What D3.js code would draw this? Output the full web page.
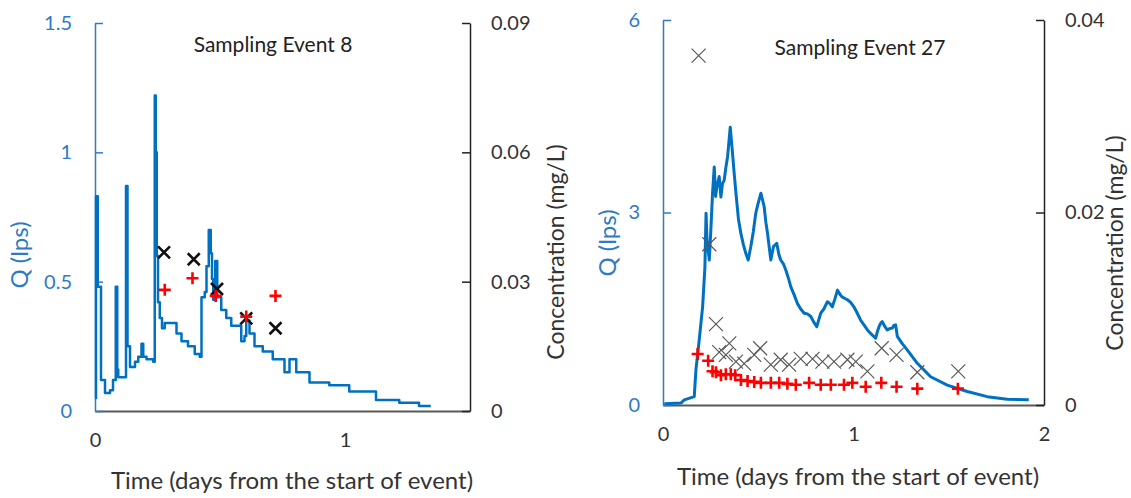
<!DOCTYPE html>
<html>
<head>
<meta charset="utf-8">
<script src="https://cdn.jsdelivr.net/npm/d3@7"></script>
<style>
  body { margin: 0; background: #fff; }
  text { font-family: Lato, "Open Sans", sans-serif; }
</style>
</head>
<body>
<svg width="1131" height="498"></svg>
<script>
// ---- Sampling Event 8 ----
var t8 = [0, 0.004, 0.011, 0.024, 0.040, 0.060, 0.072, 0.083, 0.089, 0.093, 0.120, 0.124, 0.130, 0.140, 0.160, 0.173, 0.186, 0.193, 0.206, 0.233, 0.239, 0.243, 0.247, 0.252, 0.259, 0.268, 0.279, 0.306, 0.326, 0.346, 0.372, 0.399, 0.419, 0.426, 0.439, 0.446, 0.455, 0.463, 0.468, 0.473, 0.481, 0.489, 0.505, 0.525, 0.545, 0.585, 0.598, 0.605, 0.618, 0.638, 0.671, 0.711, 0.758, 0.778, 0.805, 0.858, 0.937, 1.017, 1.124, 1.217, 1.296, 1.343];
var q8 = [0.05, 0.83, 0.48, 0.12, 0.07, 0.08, 0.12, 0.48, 0.16, 0.13, 0.13, 0.87, 0.25, 0.17, 0.19, 0.21, 0.26, 0.21, 0.20, 0.19, 1.22, 1.0, 0.6, 0.42, 0.36, 0.32, 0.34, 0.34, 0.30, 0.27, 0.25, 0.22, 0.21, 0.44, 0.46, 0.56, 0.70, 0.61, 0.51, 0.43, 0.58, 0.44, 0.39, 0.36, 0.33, 0.27, 0.29, 0.35, 0.30, 0.25, 0.23, 0.20, 0.15, 0.20, 0.15, 0.11, 0.10, 0.075, 0.043, 0.032, 0.019, 0.019];
var cross8t = [0.276, 0.395, 0.488, 0.605, 0.722];
var cross8c = [0.0368, 0.0352, 0.0283, 0.0215, 0.0192];
var plus8t = [0.279, 0.390, 0.483, 0.605, 0.722];
var plus8c = [0.0281, 0.0308, 0.0267, 0.0219, 0.0267];

// ---- Sampling Event 27 ----
var t27 = [0.007, 0.094, 0.112, 0.164, 0.173, 0.19, 0.208, 0.22, 0.226, 0.231, 0.243, 0.252, 0.26, 0.269, 0.276, 0.283, 0.295, 0.304, 0.312, 0.321, 0.33, 0.339, 0.353, 0.365, 0.374, 0.383, 0.396, 0.409, 0.422, 0.435, 0.447, 0.461, 0.474, 0.487, 0.5, 0.514, 0.531, 0.54, 0.549, 0.558, 0.566, 0.580, 0.597, 0.608, 0.618, 0.632, 0.645, 0.658, 0.671, 0.688, 0.706, 0.722, 0.741, 0.758, 0.776, 0.79, 0.807, 0.818, 0.828, 0.845, 0.863, 0.876, 0.889, 0.902, 0.916, 0.93, 0.942, 0.955, 0.968, 0.985, 1.002, 1.02, 1.038, 1.055, 1.073, 1.095, 1.116, 1.125, 1.134, 1.142, 1.151, 1.165, 1.177, 1.19, 1.204, 1.212, 1.221, 1.230, 1.255, 1.282, 1.335, 1.405, 1.492, 1.597, 1.702, 1.807, 1.920];
var q27 = [0.02, 0.03, 0.08, 0.13, 0.55, 1.01, 1.53, 2.15, 2.99, 2.57, 2.26, 2.78, 3.3, 3.71, 3.25, 3.40, 3.56, 3.24, 3.45, 3.50, 3.7, 3.87, 4.33, 3.92, 3.6, 3.30, 2.9, 2.67, 2.5, 2.36, 2.26, 2.47, 2.7, 2.99, 3.15, 3.30, 3.09, 2.85, 2.67, 2.45, 2.26, 2.47, 2.52, 2.35, 2.26, 2.2, 2.10, 1.98, 1.84, 1.72, 1.58, 1.5, 1.43, 1.42, 1.38, 1.3, 1.22, 1.33, 1.43, 1.5, 1.61, 1.58, 1.53, 1.65, 1.79, 1.72, 1.68, 1.66, 1.64, 1.6, 1.53, 1.43, 1.32, 1.25, 1.17, 1.1, 1.04, 1.14, 1.22, 1.27, 1.30, 1.22, 1.17, 1.19, 1.20, 1.24, 1.25, 1.07, 0.96, 0.86, 0.65, 0.44, 0.31, 0.21, 0.13, 0.09, 0.08];
var cross27t = [0.187, 0.243, 0.278, 0.295, 0.330, 0.348, 0.383, 0.426, 0.479, 0.510, 0.566, 0.618, 0.662, 0.723, 0.785, 0.837, 0.898, 0.968, 1.012, 1.073, 1.148, 1.226, 1.335, 1.55];
var cross27c = [0.0363, 0.0167, 0.0084, 0.0055, 0.0052, 0.0064, 0.0045, 0.0043, 0.0052, 0.0059, 0.0042, 0.0047, 0.0042, 0.0048, 0.0048, 0.0045, 0.0045, 0.0047, 0.0045, 0.0035, 0.0059, 0.0052, 0.0034, 0.0035];
var plus27t = [0.182, 0.237, 0.260, 0.278, 0.304, 0.330, 0.356, 0.379, 0.409, 0.444, 0.479, 0.514, 0.566, 0.610, 0.653, 0.697, 0.767, 0.828, 0.881, 0.950, 0.994, 1.064, 1.146, 1.226, 1.335, 1.548];
var plus27c = [0.0053, 0.0046, 0.0035, 0.0034, 0.0031, 0.0032, 0.0032, 0.0031, 0.0026, 0.0025, 0.0024, 0.0023, 0.0023, 0.0023, 0.0022, 0.0021, 0.0023, 0.0021, 0.0021, 0.0021, 0.0023, 0.0019, 0.0023, 0.0019, 0.0017, 0.0017];

var svg = d3.select("svg");
var blue = "#0070C0", axisBlue = "#2E7BC4";

function zip(a, b){ return a.map((v, i) => [v, b[i]]); }

function drawPanel(p){
    var x = d3.scaleLinear().domain(p.xDomain).range([p.left, p.right]);
    var y = d3.scaleLinear().domain(p.qDomain).range([p.bottom, p.top]);
    var yc = d3.scaleLinear().domain(p.cDomain).range([p.bottom, p.top]);
    var g = svg.append("g");

    // x axis
    var xa = g.append("g").attr("transform", "translate(0," + p.bottom + ")")
        .call(d3.axisBottom(x).tickValues(p.xTicks).tickSize(0).tickSizeOuter(0).tickPadding(22).tickFormat(d3.format("d")));
    xa.select(".domain").attr("stroke", "#595959").attr("stroke-width", 2);
    xa.selectAll("text").attr("font-size", 20).attr("fill", "#333").attr("font-family", "Lato");

    // left Q axis
    var ya = g.append("g").attr("transform", "translate(" + p.left + ",0)")
        .call(d3.axisLeft(y).tickValues(p.qTicks).tickSize(-8).tickSizeOuter(0).tickPadding(23).tickFormat(d => d));
    ya.select(".domain").attr("stroke", axisBlue).attr("stroke-width", 1.5);
    ya.selectAll("line").attr("stroke", axisBlue).attr("stroke-width", 1.5);
    ya.selectAll("text").attr("font-size", 20).attr("fill", axisBlue).attr("font-family", "Lato");

    // right concentration axis
    var ca = g.append("g").attr("transform", "translate(" + p.right + ",0)")
        .call(d3.axisRight(yc).tickValues(p.cTicks).tickSize(-8).tickSizeOuter(0).tickPadding(21).tickFormat(d => d));
    ca.select(".domain").attr("stroke", "#222").attr("stroke-width", 1.5);
    ca.selectAll("line").attr("stroke", "#222").attr("stroke-width", 1.5);
    ca.selectAll("text").attr("font-size", 20).attr("fill", "#333").attr("font-family", "Lato");

    // hydrograph
    g.append("path")
        .datum(zip(p.t, p.q))
        .attr("fill", "none")
        .attr("stroke", blue)
        .attr("stroke-width", p.lineW)
        .attr("stroke-linejoin", "round")
        .attr("d", d3.line().x(d => x(d[0])).y(d => y(d[1])).curve(p.curve));

    // x markers
    var s = p.crossSize;
    g.append("g").selectAll("path")
        .data(zip(p.crossT, p.crossC))
        .enter().append("path")
        .attr("transform", d => "translate(" + x(d[0]) + "," + yc(d[1]) + ")")
        .attr("d", "M" + -s + "," + -s + "L" + s + "," + s + "M" + -s + "," + s + "L" + s + "," + -s)
        .attr("stroke", p.crossColor)
        .attr("stroke-width", p.crossW)
        .attr("fill", "none");

    // + markers
    var r = p.plusSize;
    g.append("g").selectAll("path")
        .data(zip(p.plusT, p.plusC))
        .enter().append("path")
        .attr("transform", d => "translate(" + x(d[0]) + "," + yc(d[1]) + ")")
        .attr("d", "M" + -r + ",0H" + r + "M0," + -r + "V" + r)
        .attr("stroke", "#FF0000")
        .attr("stroke-width", 2.6)
        .attr("fill", "none");

    // titles
    g.append("text").attr("x", p.titleX).attr("y", p.titleY)
        .attr("text-anchor", "middle").attr("font-size", 21).attr("fill", "#222")
        .text(p.title);
    g.append("text").attr("x", p.xTitleX).attr("y", p.xTitleY)
        .attr("text-anchor", "middle").attr("font-size", 24).attr("fill", "#333")
        .text("Time (days from the start of event)");
    g.append("text")
        .attr("transform", "translate(" + p.qTitleX + "," + p.qTitleY + ") rotate(-90)")
        .attr("text-anchor", "middle").attr("dy", "0.35em").attr("font-size", 24).attr("fill", axisBlue)
        .text("Q (lps)");
    g.append("text")
        .attr("transform", "translate(" + p.cTitleX + "," + p.cTitleY + ") rotate(-90)")
        .attr("text-anchor", "middle").attr("dy", "0.35em").attr("font-size", 23).attr("fill", "#333")
        .text("Concentration (mg/L)");
}

drawPanel({
    left: 95, right: 470, top: 23, bottom: 411,
    xDomain: [0, 1.5], qDomain: [0, 1.5], cDomain: [0, 0.09],
    xTicks: [0, 1], qTicks: [0, 0.5, 1, 1.5], cTicks: [0, 0.03, 0.06, 0.09],
    t: t8, q: q8, curve: d3.curveStepAfter, lineW: 2.5,
    crossT: cross8t, crossC: cross8c, crossColor: "#111", crossW: 2.6, crossSize: 6,
    plusT: plus8t, plusC: plus8c, plusSize: 6,
    title: "Sampling Event 8", titleX: 273, titleY: 52,
    xTitleX: 292, xTitleY: 489, qTitleX: 20, qTitleY: 255, cTitleX: 556, cTitleY: 252
});

drawPanel({
    left: 663, right: 1044, top: 20, bottom: 405,
    xDomain: [0, 2], qDomain: [0, 6], cDomain: [0, 0.04],
    xTicks: [0, 1, 2], qTicks: [0, 3, 6], cTicks: [0, 0.02, 0.04],
    t: t27, q: q27, curve: d3.curveLinear, lineW: 3,
    crossT: cross27t, crossC: cross27c, crossColor: "#595959", crossW: 1.2, crossSize: 7,
    plusT: plus27t, plusC: plus27c, plusSize: 6,
    title: "Sampling Event 27", titleX: 860, titleY: 55,
    xTitleX: 858, xTitleY: 485, qTitleX: 608, qTitleY: 243, cTitleX: 1115, cTitleY: 243
});
</script>
</body>
</html>
